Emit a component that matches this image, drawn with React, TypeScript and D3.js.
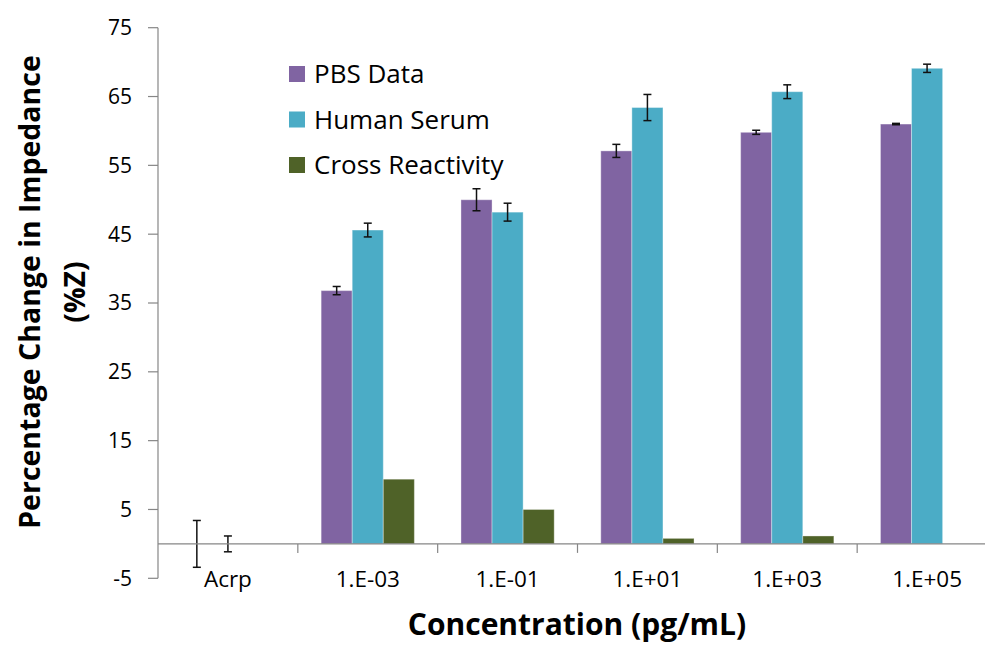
import React from 'react';
import { scaleBand, scaleLinear } from 'd3';

const categories = ['Acrp', '1.E-03', '1.E-01', '1.E+01', '1.E+03', '1.E+05'];
const seriesNames = ['PBS Data', 'Human Serum', 'Cross Reactivity'];
const pbsData = [0, 36.8, 50.0, 57.1, 59.8, 61.0];
const pbsError = [3.4, 0.6, 1.6, 0.95, 0.3, 0.1];
const humanSerum = [0, 45.6, 48.2, 63.4, 65.7, 69.1];
const humanSerumError = [1.15, 1.0, 1.3, 1.9, 1.0, 0.6];
const crossReactivity = [0, 9.4, 5.0, 0.8, 1.15, 0];
const yTicks = [-5, 5, 15, 25, 35, 45, 55, 65, 75];

const colors = ['#8064A2', '#4BACC6', '#4F6228'];
const font = "'Open Sans', sans-serif";
const axisColor = '#868686';

const width = 985;
const height = 658;

const App: React.FC = () => {
  const values = [pbsData, humanSerum, crossReactivity];
  const errors: Array<number[] | null> = [pbsError, humanSerumError, null];

  // Define Scales
  const xScale = scaleBand<string>().domain(categories).range([158, 997]);
  const seriesScale = scaleBand<string>()
    .domain(seriesNames)
    .range([0, xScale.step()])
    .paddingInner(0)
    .paddingOuter(0.75);
  const yScale = scaleLinear().domain([-5, 75]).range([578.3, 27.7]);
  const bw = seriesScale.bandwidth();
  const y0 = yScale(0);

  return (
    <div style={{ position: 'absolute', left: 0, top: 0 }}>
      <svg width={width} height={height} style={{ display: 'block', background: '#fff' }}>
        {/* Bars */}
        {values.map((series, si) =>
          series.map((v, ci) => {
            const x = (xScale(categories[ci]) as number) + (seriesScale(seriesNames[si]) as number);
            const top = yScale(Math.max(v, 0));
            return (
              <rect
                key={`b-${si}-${ci}`}
                x={x}
                y={top}
                width={bw}
                height={Math.max(0, y0 - top)}
                fill={colors[si]}
                stroke="rgba(255,255,255,0.35)"
                strokeWidth={1}
              />
            );
          }),
        )}

        {/* Error bars */}
        {errors.map((errs, si) =>
          errs
            ? errs.map((e, ci) => {
                const cx =
                  (xScale(categories[ci]) as number) +
                  (seriesScale(seriesNames[si]) as number) +
                  bw / 2;
                const v = values[si][ci];
                const yHi = yScale(v + e);
                const yLo = yScale(v - e);
                return (
                  <g key={`e-${si}-${ci}`} stroke="#111" strokeWidth={1.5}>
                    <line x1={cx} x2={cx} y1={yHi} y2={yLo} />
                    <line x1={cx - 4} x2={cx + 4} y1={yHi} y2={yHi} />
                    <line x1={cx - 4} x2={cx + 4} y1={yLo} y2={yLo} />
                  </g>
                );
              })
            : null,
        )}

        {/* Y axis */}
        <line x1={158} x2={158} y1={yScale(75)} y2={yScale(-5)} stroke={axisColor} strokeWidth={1.2} />
        {yTicks.map((t) => (
          <g key={`yt-${t}`}>
            <line x1={148} x2={158} y1={yScale(t)} y2={yScale(t)} stroke={axisColor} strokeWidth={1.2} />
            <text
              x={132}
              y={yScale(t)}
              dy="0.35em"
              textAnchor="end"
              fontFamily={font}
              fontSize={21}
              fill="#000"
            >
              {t}
            </text>
          </g>
        ))}

        {/* X axis */}
        <line x1={158} x2={997} y1={y0} y2={y0} stroke={axisColor} strokeWidth={1.2} />
        {categories.map((c) => (
          <g key={`xt-${c}`}>
            <line
              x1={(xScale(c) as number) + xScale.step()}
              x2={(xScale(c) as number) + xScale.step()}
              y1={y0}
              y2={y0 + 9}
              stroke={axisColor}
              strokeWidth={1.2}
            />
            <text
              x={(xScale(c) as number) + xScale.bandwidth() / 2}
              y={587}
              textAnchor="middle"
              fontFamily={font}
              fontSize={22.5}
              fill="#000"
            >
              {c}
            </text>
          </g>
        ))}

        {/* Legend */}
        {seriesNames.map((s, i) => (
          <g key={`lg-${s}`} transform={`translate(289, ${74 + i * 45.5})`}>
            <rect x={0} y={-8} width={16} height={16} fill={colors[i]} />
            <text x={25} y={0} dy="0.35em" fontFamily={font} fontSize={26} fill="#000">
              {s}
            </text>
          </g>
        ))}

        {/* Axis titles */}
        <text
          x={577}
          y={635}
          textAnchor="middle"
          fontFamily={font}
          fontSize={30}
          fontWeight="bold"
          fill="#000"
        >
          Concentration (pg/mL)
        </text>
        <text
          transform="translate(40, 292) rotate(-90)"
          textAnchor="middle"
          fontFamily={font}
          fontSize={28.5}
          fontWeight="bold"
          fill="#000"
        >
          Percentage Change in Impedance
        </text>
        <text
          transform="translate(85, 292) rotate(-90)"
          textAnchor="middle"
          fontFamily={font}
          fontSize={28.5}
          fontWeight="bold"
          fill="#000"
        >
          (%Z)
        </text>
      </svg>
    </div>
  );
};

export default App;
